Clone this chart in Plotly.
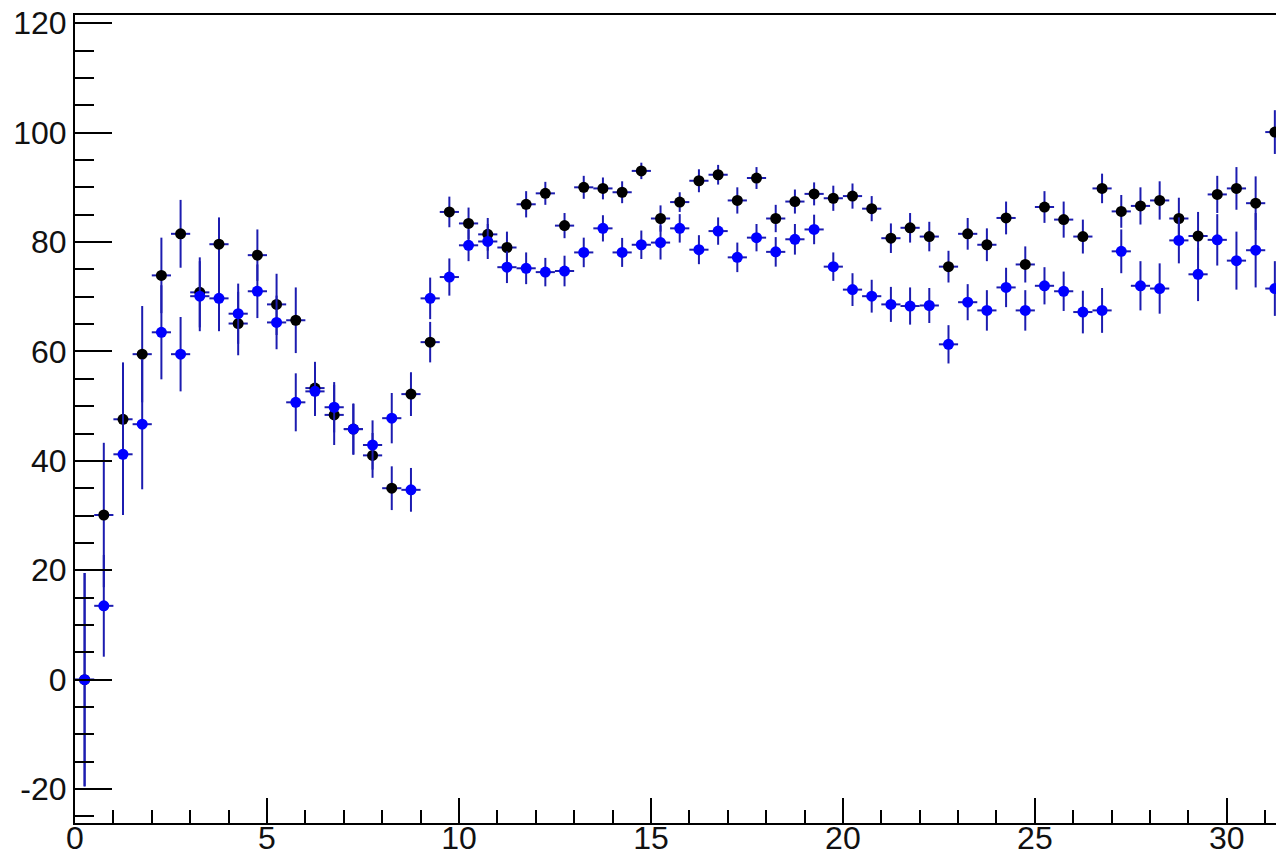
import plotly.graph_objects as go

# bin centres (bin width 0.5)
x_centers = [0.25 + 0.5 * k for k in range(63)]
x_halfwidth = [0.25] * 63

black_vals = [0.0, 30.1, 47.6, 59.5, 73.9, 81.5, 70.8, 79.6, 65.1, 77.6,
              68.6, 65.7, 53.3, 48.4, 45.8, 41.0, 35.0, 52.2, 61.7, 85.5,
              83.4, 81.4, 79.0, 86.9, 88.9, 83.0, 90.0, 89.8, 89.1, 93.0,
              84.3, 87.3, 91.2, 92.3, 87.6, 91.7, 84.3, 87.4, 88.8, 88.0,
              88.4, 86.1, 80.7, 82.6, 81.0, 75.5, 81.5, 79.5, 84.4, 75.9,
              86.4, 84.1, 81.0, 89.8, 85.6, 86.6, 87.6, 84.3, 81.1, 88.7,
              89.8, 87.1, 100.1]
black_errs = [19.5, 13.2, 10.4, 8.8, 6.9, 6.2, 6.4, 4.9, 5.8, 4.7,
              5.6, 6.0, 4.8, 5.5, 4.6, 4.1, 4.0, 4.0, 3.7, 2.8,
              2.9, 3.0, 2.9, 2.4, 2.1, 2.3, 2.1, 2.0, 2.0, 1.5,
              2.4, 1.8, 2.1, 1.8, 2.4, 2.0, 2.5, 2.2, 2.1, 2.3,
              2.3, 2.3, 2.7, 2.7, 2.7, 2.9, 2.9, 3.0, 3.0, 3.3,
              2.9, 3.3, 3.1, 2.7, 3.0, 3.4, 3.5, 3.8, 4.4, 3.4,
              3.9, 4.9, 4.0]

blue_vals = [0.0, 13.5, 41.2, 46.7, 63.5, 59.5, 70.1, 69.7, 66.9, 71.0,
             65.3, 50.7, 52.7, 49.8, 45.8, 42.9, 47.8, 34.7, 69.7, 73.6,
             79.4, 80.1, 75.4, 75.2, 74.5, 74.7, 78.1, 82.5, 78.1, 79.5,
             79.9, 82.5, 78.6, 82.0, 77.2, 80.8, 78.2, 80.5, 82.3, 75.5,
             71.3, 70.1, 68.6, 68.3, 68.4, 61.3, 69.0, 67.5, 71.7, 67.5,
             72.0, 71.0, 67.2, 67.5, 78.3, 72.0, 71.5, 80.3, 74.1, 80.4,
             76.6, 78.5, 71.5]
blue_errs = [19.5, 9.3, 11.1, 11.9, 8.6, 6.8, 6.4, 6.0, 5.5, 4.9,
             4.9, 5.3, 4.5, 4.6, 4.7, 4.5, 4.6, 4.0, 3.8, 3.4,
             2.9, 3.2, 2.9, 2.9, 2.6, 2.8, 2.7, 2.4, 2.65, 2.6,
             3.1, 2.6, 2.65, 2.5, 2.7, 2.5, 2.7, 2.8, 2.7, 2.6,
             3.0, 3.0, 3.2, 3.4, 3.2, 3.5, 3.3, 3.7, 3.6, 3.7,
             3.4, 3.6, 3.9, 4.1, 4.0, 4.5, 4.6, 4.2, 4.9, 4.7,
             5.3, 6.8, 5.0]

x_tickvals = [0, 5, 10, 15, 20, 25, 30]
x_ticktext = ["0", "5", "10", "15", "20", "25", "30"]
y_tickvals = [-20, 0, 20, 40, 60, 80, 100, 120]
y_ticktext = ["-20", "0", "20", "40", "60", "80", "100", "120"]

bar_color = "#1c1cb0"

fig = go.Figure()
for vals, errs, col in [(black_vals, black_errs, "#000000"),
                        (blue_vals, blue_errs, "#0000ff")]:
    fig.add_trace(go.Scatter(
        x=x_centers, y=vals, mode="markers",
        marker=dict(color=col, size=11, line=dict(width=0)),
        error_y=dict(type="data", array=errs, visible=True,
                     color=bar_color, thickness=2, width=0),
        error_x=dict(type="data", array=x_halfwidth, visible=True,
                     color=bar_color, thickness=2, width=0),
        showlegend=False,
    ))

font = dict(family="Liberation Sans, Arial, sans-serif", size=32, color="#111111")

fig.update_layout(
    width=1276, height=858,
    margin=dict(l=75, r=0, t=15, b=35),
    paper_bgcolor="white", plot_bgcolor="white",
    font=font,
    xaxis=dict(range=[0, 31.28], showgrid=False, zeroline=False, automargin=False,
               showline=True, linecolor="black", linewidth=2, mirror=True,
               ticks="inside", ticklen=25, tickwidth=2, tickcolor="black",
               tickmode="array", tickvals=x_tickvals, ticktext=x_ticktext,
               tickfont=font, ticklabelstandoff=-14,
               minor=dict(ticks="inside", ticklen=13, tickwidth=2,
                          tickcolor="black", tick0=0, dtick=1, showgrid=False)),
    yaxis=dict(range=[-26.2, 121.5], showgrid=False, zeroline=False, automargin=False,
               showline=True, linecolor="black", linewidth=2, mirror=False,
               ticks="inside", ticklen=37, tickwidth=2, tickcolor="black",
               tickmode="array", tickvals=y_tickvals, ticktext=y_ticktext,
               tickfont=font,
               minor=dict(ticks="inside", ticklen=19, tickwidth=2,
                          tickcolor="black", tick0=0, dtick=5, showgrid=False)),
)

fig.write_html("out.html")
